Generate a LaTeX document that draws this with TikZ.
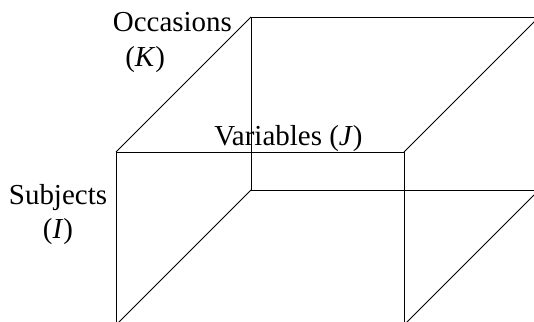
\documentclass[tikz,border=0pt]{standalone}
\usepackage{fontspec}
\setmainfont{Liberation Serif}
\begin{document}
\begin{tikzpicture}[
  every node/.style={inner sep=0pt},
  lbl/.style={anchor=base, font=\fontsize{20.6}{24.8}\selectfont},
  edge/.style={line width=0.6pt, black},
]

\def\L{2.9}     % front left
\def\R{10.1}    % front right
\def\T{4.25}    % front top
\def\Bt{-0.075} % front bottom
\def\d{3.375}   % depth offset

\useasboundingbox (0,0) rectangle (13.35,8.05);
\clip (0,0) rectangle (13.35,8.05);

% back face
\draw[edge] (\L+\d,\Bt+\d) rectangle (\R+\d,\T+\d);
% front face
\draw[edge] (\L,\Bt) rectangle (\R,\T);
% depth edges
\foreach \x/\y in {\L/\T, \R/\T, \L/\Bt, \R/\Bt} {
  \draw[edge] (\x,\y) -- ++(\d,\d);
}

% labels
\node[lbl] (occ) at (4.31,7.25) {Occasions};
\node[lbl] (occk) at (3.63,6.375) {(\textit{K})};
\node[lbl] (var) at (7.21,4.4) {Variables (\textit{J})};
\node[lbl, align=center] (subj) at (1.45,2.075) {Subjects\\(\textit{I})};

\end{tikzpicture}
\end{document}
